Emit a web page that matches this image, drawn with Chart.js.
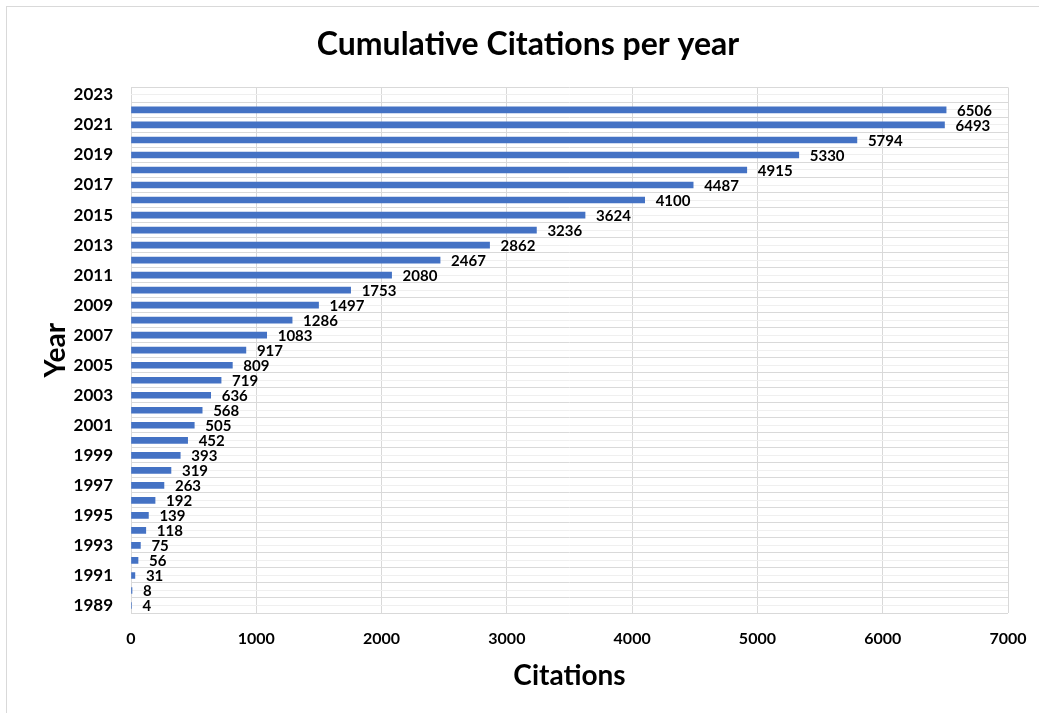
<!DOCTYPE html>
<html>
<head>
<meta charset="utf-8">
<script src="https://cdn.jsdelivr.net/npm/chart.js@4.4.1/dist/chart.umd.min.js"></script>
<style>
  html, body { margin: 0; padding: 0; background: #fff; overflow: hidden; }
  #frame { position: absolute; left: 6px; top: 6px; width: 1100px; height: 800px;
           border-top: 1px solid #d9d9d9; border-left: 1px solid #d9d9d9; }
  canvas { position: absolute; left: 0; top: 0; }
</style>
</head>
<body>
<div id="frame"></div>
<canvas id="chart" width="1039" height="713"></canvas>
<script>
// Publication years, oldest first (2023 has no count yet)
const years = ['1989','1990','1991','1992','1993','1994','1995','1996','1997','1998',
               '1999','2000','2001','2002','2003','2004','2005','2006','2007','2008',
               '2009','2010','2011','2012','2013','2014','2015','2016','2017','2018',
               '2019','2020','2021','2022','2023'];

// Citations for each year
const citations = [4, 8, 31, 56, 75, 118, 139, 192, 263, 319,
                   393, 452, 505, 568, 636, 719, 809, 917, 1083, 1286,
                   1497, 1753, 2080, 2467, 2862, 3236, 3624, 4100, 4487, 4915,
                   5330, 5794, 6493, 6506, null];

// Year labels printed on the vertical axis
const yearTicks = ['1989','1991','1993','1995','1997','1999','2001','2003','2005',
                   '2007','2009','2011','2013','2015','2017','2019','2021','2023'];

// Citation axis ticks
const citationTicks = [0, 1000, 2000, 3000, 4000, 5000, 6000, 7000];

const FONT = 'Lato, "Open Sans", sans-serif';

// Writes each bar's value just past its end
const valueLabels = {
  id: 'valueLabels',
  afterDatasetsDraw(chart) {
    const ctx = chart.ctx;
    const meta = chart.getDatasetMeta(0);
    ctx.save();
    ctx.font = 'bold 15px ' + FONT;
    ctx.fillStyle = '#000';
    ctx.textAlign = 'left';
    ctx.textBaseline = 'middle';
    meta.data.forEach((bar, i) => {
      const v = citations[i];
      if (v === null || v === undefined) return;
      ctx.fillText(String(v), bar.x + 11, bar.y + 1);
    });
    ctx.restore();
  }
};

new Chart(document.getElementById('chart'), {
  type: 'bar',
  data: {
    labels: years,
    datasets: [{
      data: citations,
      backgroundColor: '#4472C4',
      borderWidth: 0,
      barThickness: 6
    }]
  },
  options: {
    indexAxis: 'y',
    responsive: false,
    animation: false,
    layout: { padding: { left: 48, right: 31, top: 0, bottom: 0 } },
    plugins: {
      legend: { display: false },
      tooltip: { enabled: false },
      title: {
        display: true,
        text: 'Cumulative Citations per year',
        color: '#000',
        font: { family: FONT, size: 32, weight: 'bold' },
        padding: { top: 25, bottom: 24 }
      }
    },
    scales: {
      x: {
        min: citationTicks[0],
        max: citationTicks[citationTicks.length - 1],
        afterBuildTicks(axis) { axis.ticks = citationTicks.map(v => ({ value: v })); },
        afterFit(axis) {
          axis.height = 100;
          axis.paddingLeft = 0;
          axis.paddingRight = 0;
        },
        grid: { color: '#d9d9d9', drawTicks: false },
        border: { display: false },
        ticks: {
          color: '#000',
          padding: 16,
          font: { family: FONT, size: 16, weight: 'bold' },
          callback(value) { return String(value); }
        },
        title: {
          display: true,
          text: 'Citations',
          color: '#000',
          font: { family: FONT, size: 28, weight: 'bold' },
          padding: { top: 0, bottom: 20 }
        }
      },
      y: {
        reverse: true,
        offset: true,
        afterFit(axis) { axis.width = 83; },
        grid: { offset: true, color: '#d9d9d9', drawTicks: false },
        border: { display: false },
        ticks: {
          autoSkip: false,
          color: '#000',
          padding: 18,
          font: { family: FONT, size: 17, weight: 'bold' },
          callback(value) {
            const lbl = this.getLabelForValue(value);
            return yearTicks.includes(lbl) ? lbl : '';
          }
        },
        title: {
          display: true,
          text: 'Year',
          color: '#000',
          font: { family: FONT, size: 28, weight: 'bold', lineHeight: 0.6 },
          padding: { top: 0, bottom: 0 }
        }
      },
      yCenter: {
        type: 'category',
        labels: years,
        position: 'left',
        reverse: true,
        offset: true,
        afterFit(axis) { axis.width = 0; },
        grid: { offset: false, color: '#efefef', drawTicks: false },
        border: { display: false },
        ticks: { display: false }
      }
    }
  },
  plugins: [valueLabels]
});
</script>
</body>
</html>
